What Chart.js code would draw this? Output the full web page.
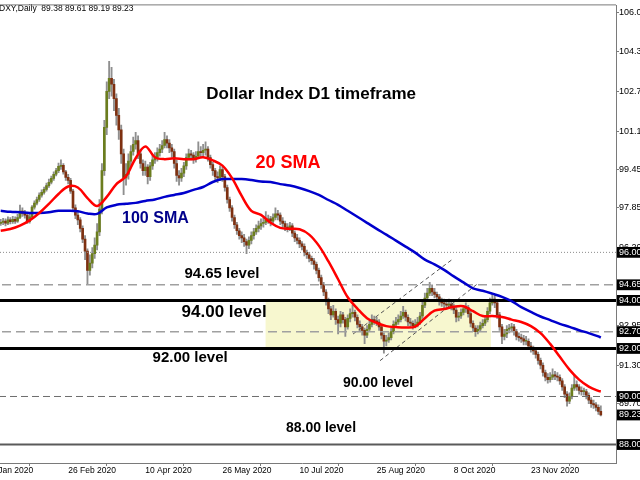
<!DOCTYPE html>
<html>
<head>
<meta charset="utf-8">
<script src="https://cdn.jsdelivr.net/npm/chart.js@4.4.0/dist/chart.umd.min.js"></script>
<style>
  html, body { margin: 0; padding: 0; background: #fff; overflow: hidden; width: 640px; height: 480px; }
  #wrap { position: absolute; left: -12px; top: 0; width: 660px; height: 480px; }
</style>
</head>
<body>
<div id="wrap"><canvas id="dxy" width="660" height="480"></canvas></div>
<script>
// ---- DXY daily bars (bar index 0 = first visible bar) ----
const firstOpen = 97.20;
const closes = [
  97.25, 97.30, 97.22, 97.35, 97.28, 97.38, 97.30, 97.45, 97.72, 97.62,
  97.55, 97.28, 97.48, 97.88, 98.05, 98.20, 98.38, 98.50, 98.62, 98.78,
  98.92, 99.08, 99.25, 99.40, 99.58, 99.62, 99.35, 99.12, 99.00, 98.55,
  97.85, 97.55, 97.35, 97.00, 96.55, 96.05, 95.25, 95.55, 95.95, 96.30,
  96.85, 97.80, 99.40, 101.20, 102.70, 103.25, 103.00, 102.40, 101.70, 101.10,
  100.10, 99.10, 99.25, 99.80, 100.20, 100.50, 100.65, 100.10, 99.70, 99.40,
  99.55, 99.15, 99.60, 99.85, 99.95, 100.15, 100.30, 100.45, 100.70, 100.55,
  100.35, 100.20, 99.70, 99.20, 99.10, 99.30, 99.60, 99.95, 100.10, 100.05,
  99.90, 100.00, 100.20, 100.15, 100.25, 100.30, 99.95, 99.65, 99.40, 99.15,
  99.10, 99.45, 99.15, 98.70, 98.20, 97.85, 97.45, 97.15, 96.90, 96.70,
  96.60, 96.45, 96.30, 96.50, 96.70, 96.85, 97.00, 97.10, 97.20, 97.25,
  97.35, 97.40, 97.30, 97.45, 97.60, 97.55, 97.30, 97.20, 97.05, 97.00,
  97.10, 96.80, 96.60, 96.50, 96.35, 96.25, 96.00, 95.90, 95.75, 95.65,
  95.50, 95.25, 94.95, 94.65, 94.35, 94.00, 93.65, 93.40, 93.55, 93.20,
  93.05, 93.40, 93.20, 92.90, 93.25, 93.45, 93.50, 93.30, 93.00, 92.90,
  92.75, 92.55, 92.80, 93.00, 93.20, 93.15, 93.10, 92.90, 92.55, 92.30,
  92.35, 92.45, 92.70, 93.00, 93.10, 93.20, 93.35, 93.50, 93.30, 93.10,
  93.05, 92.95, 93.00, 93.10, 93.35, 93.80, 94.10, 94.30, 94.50, 94.35,
  94.25, 94.15, 93.95, 93.90, 93.85, 93.80, 93.85, 93.75, 93.60, 93.30,
  93.35, 93.50, 93.65, 93.70, 93.45, 93.05, 92.85, 92.70, 92.80, 92.95,
  93.05, 93.20, 93.55, 93.90, 94.05, 93.90, 93.40, 92.90, 92.50, 92.60,
  92.80, 92.85, 92.90, 92.70, 92.50, 92.45, 92.40, 92.30, 92.30, 92.10,
  92.00, 91.90, 91.75, 91.50, 91.30, 91.00, 90.80, 90.70, 90.80, 90.90,
  90.85, 90.80, 90.65, 90.40, 90.10, 89.80, 90.00, 90.35, 90.50, 90.40,
  90.25, 90.20, 90.20, 90.05, 89.85, 89.70, 89.65, 89.55, 89.38, 89.23
];
const highs = [
  97.38, 97.42, 97.40, 97.48, 97.45, 97.50, 97.48, 97.58, 97.97, 97.85,
  97.75, 97.62, 97.58, 97.95, 98.15, 98.30, 98.48, 98.60, 98.72, 98.88,
  99.05, 99.18, 99.35, 99.50, 99.72, 99.85, 99.70, 99.42, 99.25, 99.08,
  98.62, 97.98, 97.70, 97.45, 97.10, 96.70, 96.15, 95.90, 96.20, 96.60,
  97.20, 98.20, 99.70, 101.50, 103.10, 103.95, 103.70, 103.20, 102.60, 102.00,
  101.30, 100.30, 99.70, 100.10, 100.45, 100.80, 101.00, 100.85, 100.30, 99.85,
  99.80, 99.65, 99.75, 100.05, 100.15, 100.35, 100.50, 100.65, 101.00, 100.85,
  100.70, 100.50, 100.30, 99.85, 99.40, 99.50, 99.75, 100.10, 100.30, 100.25,
  100.15, 100.20, 100.60, 100.40, 100.50, 100.60, 100.40, 100.05, 99.75, 99.50,
  99.35, 99.60, 99.55, 99.25, 98.80, 98.30, 97.95, 97.55, 97.25, 97.00,
  96.85, 96.75, 96.55, 96.65, 96.85, 97.00, 97.15, 97.30, 97.40, 97.45,
  97.70, 97.55, 97.50, 97.60, 97.85, 97.75, 97.65, 97.45, 97.30, 97.20,
  97.25, 97.20, 96.90, 96.75, 96.60, 96.45, 96.35, 96.10, 96.00, 95.85,
  95.75, 95.60, 95.35, 95.05, 94.75, 94.45, 94.10, 93.75, 93.80, 93.65,
  93.35, 93.55, 93.50, 93.30, 93.40, 93.65, 93.80, 93.60, 93.40, 93.15,
  93.00, 92.85, 92.95, 93.15, 93.40, 93.35, 93.30, 93.20, 93.00, 92.65,
  92.55, 92.65, 92.85, 93.15, 93.30, 93.40, 93.55, 93.75, 93.60, 93.40,
  93.25, 93.15, 93.20, 93.30, 93.50, 93.95, 94.30, 94.50, 94.75, 94.65,
  94.50, 94.35, 94.25, 94.10, 94.05, 94.00, 94.05, 93.95, 93.85, 93.70,
  93.50, 93.65, 93.80, 93.90, 93.80, 93.55, 93.15, 92.95, 92.95, 93.10,
  93.20, 93.35, 93.70, 94.10, 94.25, 94.20, 94.00, 93.50, 93.00, 92.80,
  92.95, 93.00, 93.05, 93.00, 92.80, 92.65, 92.60, 92.55, 92.50, 92.40,
  92.25, 92.10, 92.00, 91.85, 91.60, 91.40, 91.10, 90.95, 91.00, 91.15,
  91.05, 91.00, 90.90, 90.75, 90.50, 90.20, 90.15, 90.50, 90.90, 90.65,
  90.50, 90.40, 90.35, 90.30, 90.15, 89.95, 89.85, 89.75, 89.65, 89.61
];
const lows = [
  97.12, 97.15, 97.10, 97.15, 97.18, 97.20, 97.20, 97.25, 97.40, 97.50,
  97.42, 97.20, 97.22, 97.42, 97.80, 97.98, 98.12, 98.30, 98.42, 98.55,
  98.70, 98.85, 99.00, 99.18, 99.32, 99.45, 99.25, 99.00, 98.85, 98.45,
  97.75, 97.40, 97.15, 96.85, 96.40, 95.70, 94.65, 95.05, 95.35, 95.75,
  96.10, 96.70, 97.60, 99.20, 100.90, 102.40, 102.50, 101.90, 101.30, 100.70,
  99.70, 98.40, 98.80, 99.05, 99.60, 100.05, 100.30, 99.90, 99.50, 99.20,
  99.20, 98.85, 99.00, 99.45, 99.70, 99.80, 100.00, 100.15, 100.35, 100.35,
  100.15, 99.95, 99.50, 98.95, 98.80, 98.95, 99.15, 99.45, 99.85, 99.85,
  99.70, 99.75, 99.90, 99.95, 100.00, 100.05, 99.80, 99.50, 99.20, 98.95,
  98.90, 99.00, 98.95, 98.55, 98.05, 97.70, 97.30, 97.00, 96.75, 96.55,
  96.40, 96.25, 95.95, 96.15, 96.35, 96.55, 96.75, 96.85, 96.95, 97.05,
  97.15, 97.20, 97.10, 97.20, 97.35, 97.35, 97.15, 97.05, 96.90, 96.85,
  96.90, 96.65, 96.45, 96.35, 96.20, 96.10, 95.85, 95.75, 95.60, 95.50,
  95.30, 95.10, 94.80, 94.50, 94.20, 93.80, 93.45, 93.20, 93.30, 93.00,
  92.60, 92.90, 93.05, 92.50, 92.80, 93.10, 93.30, 93.15, 92.85, 92.70,
  92.55, 92.20, 92.45, 92.70, 92.90, 93.00, 92.95, 92.75, 92.40, 91.80,
  92.10, 92.25, 92.35, 92.60, 92.90, 93.00, 93.10, 93.25, 93.15, 92.95,
  92.90, 92.80, 92.85, 92.90, 93.00, 93.25, 93.70, 94.00, 94.20, 94.20,
  94.10, 94.00, 93.80, 93.75, 93.70, 93.65, 93.70, 93.60, 93.45, 93.10,
  93.15, 93.25, 93.40, 93.50, 93.30, 92.90, 92.70, 92.50, 92.60, 92.70,
  92.85, 92.95, 93.10, 93.45, 93.80, 93.70, 93.25, 92.75, 92.20, 92.35,
  92.45, 92.65, 92.70, 92.55, 92.35, 92.30, 92.25, 92.15, 92.15, 91.95,
  91.85, 91.75, 91.60, 91.35, 91.15, 90.85, 90.65, 90.55, 90.60, 90.70,
  90.70, 90.65, 90.50, 90.25, 89.95, 89.60, 89.70, 89.90, 90.25, 90.25,
  90.10, 90.05, 90.05, 89.90, 89.70, 89.55, 89.50, 89.40, 89.25, 89.19
];

// ---- moving averages, read every 4th bar ----
const smaBars = [
  0, 4, 8, 12, 16, 20, 24, 28, 32, 36, 40, 44, 48, 52, 56, 60,
  64, 68, 72, 76, 80, 84, 88, 92, 96, 100, 104, 108, 112, 116, 120, 124,
  128, 132, 136, 140, 144, 148, 152, 156, 160, 164, 168, 172, 176, 180, 184, 188,
  192, 196, 200, 204, 208, 212, 216, 220, 224, 228, 232, 236, 240, 244, 248, 249
];
const sma20 = [
  96.90, 96.97, 97.11, 97.33, 97.64, 98.02, 98.43, 98.74, 98.70, 98.26, 97.93, 98.31, 98.84, 99.17, 99.92, 100.41,
  99.96, 99.88, 99.92, 99.88, 99.88, 99.96, 99.83, 99.61, 99.09, 98.35, 97.73, 97.56, 97.23, 97.02, 96.98, 96.96,
  96.74, 96.28, 95.62, 94.88, 94.13, 93.66, 93.26, 93.06, 92.93, 92.89, 92.87, 92.91, 93.26, 93.57, 93.64, 93.74,
  93.76, 93.55, 93.35, 93.35, 93.31, 93.20, 93.10, 92.93, 92.64, 92.19, 91.65, 91.12, 90.70, 90.41, 90.23, 90.21
];
const sma100 = [
  97.73, 97.69, 97.67, 97.64, 97.64, 97.67, 97.73, 97.73, 97.71, 97.62, 97.60, 97.87, 97.98, 98.02, 98.06, 98.14,
  98.20, 98.31, 98.39, 98.47, 98.60, 98.72, 98.93, 99.05, 99.05, 99.05, 99.01, 98.95, 98.93, 98.84, 98.78, 98.68,
  98.55, 98.39, 98.18, 97.98, 97.73, 97.48, 97.23, 96.98, 96.74, 96.49, 96.24, 95.99, 95.70, 95.50, 95.27, 95.00,
  94.75, 94.50, 94.40, 94.28, 94.15, 93.97, 93.72, 93.52, 93.33, 93.18, 93.02, 92.90, 92.76, 92.64, 92.50, 92.45
];

// ---- axes ----
const dateTickBars = [-4, 28, 60, 92, 124, 156, 188, 220];
const dateLabels = ['3 Jan 2020', '26 Feb 2020', '10 Apr 2020', '26 May 2020',
                    '10 Jul 2020', '25 Aug 2020', '8 Oct 2020', '23 Nov 2020'];
const gridPrices = [106.0, 104.35, 102.7, 101.05, 99.45, 97.85, 96.2, 92.95, 91.3, 89.7];
const gridLabels = ['106.0', '104.3', '102.7', '101.1', '99.45', '97.85', '96.20', '92.95', '91.30', '89.70'];
const levelPrices = [96.00, 94.65, 94.00, 92.70, 92.00, 90.00, 88.00];
const levelLabels = ['96.00', '94.65', '94.00', '92.70', '92.00', '90.00', '88.00'];

// ---- drawn objects ----
const channelLowerBars = [157.4, 197.6];
const channelLowerPrices = [91.49, 94.67];
const channelUpperBars = [146.2, 187.3];
const channelUpperPrices = [92.60, 95.70];
const rangeBars = [109.9, 203.4];
const rangePrices = [92.00, 94.00];

const X_MIN = -5.27, X_MAX = 255.31;
const Y_MIN = 87.231, Y_MAX = 106.281;

const opens = closes.map((c, i) => i === 0 ? firstOpen : closes[i - 1]);
const lastIdx = closes.length - 1;

const notes = [
  { text: 'Dollar Index D1 timeframe', bar: 128.8, price: 102.56, size: 17, color: '#000000' },
  { text: '20 SMA', bar: 119.2, price: 99.71, size: 18, color: '#ff0000' },
  { text: '100 SMA', bar: 64.2, price: 97.40, size: 16, color: '#00008b' },
  { text: '94.65 level', bar: 91.8, price: 95.12, size: 15, color: '#000000' },
  { text: '94.00 level', bar: 92.7, price: 93.51, size: 17, color: '#000000' },
  { text: '92.00 level', bar: 78.6, price: 91.61, size: 15, color: '#000000' },
  { text: '90.00 level', bar: 156.6, price: 90.54, size: 14, color: '#000000' },
  { text: '88.00 level', bar: 132.9, price: 88.68, size: 14, color: '#000000' }
];

const levelStyles = {
  96.00: { color: '#8c8c8c', width: 1, dash: [1, 2] },
  94.65: { color: '#a0a0a0', width: 1.5, dash: [9, 5] },
  94.00: { color: '#000000', width: 3, dash: [] },
  92.70: { color: '#a0a0a0', width: 1.5, dash: [9, 5] },
  92.00: { color: '#000000', width: 3, dash: [] },
  90.00: { color: '#6e6e6e', width: 1, dash: [7, 4] },
  88.00: { color: '#5a5a5a', width: 2, dash: [] }
};

const BULL = '#6b7d1e';
const BEAR = '#7e3010';
const WICK = '#8f8f8f';

const datasets = [];

datasets.push({
  type: 'line', label: '20 SMA', order: 0,
  data: smaBars.map((b, i) => ({ x: b, y: sma20[i] })),
  borderColor: '#ff0000', borderWidth: 2.5, pointRadius: 0, tension: 0.35
});
datasets.push({
  type: 'line', label: '100 SMA', order: 0,
  data: smaBars.map((b, i) => ({ x: b, y: sma100[i] })),
  borderColor: '#0000cc', borderWidth: 2.5, pointRadius: 0, tension: 0.35
});

levelPrices.forEach(p => {
  const s = levelStyles[p];
  datasets.push({
    type: 'line', label: 'level ' + p, order: 1,
    data: [{ x: X_MIN, y: p }, { x: X_MAX, y: p }],
    borderColor: s.color, borderWidth: s.width, borderDash: s.dash,
    pointRadius: 0, tension: 0
  });
});

datasets.push({
  type: 'line', label: 'channel upper', order: 1,
  data: channelUpperBars.map((b, i) => ({ x: b, y: channelUpperPrices[i] })),
  borderColor: '#555555', borderWidth: 1, borderDash: [4, 3], pointRadius: 0
});
datasets.push({
  type: 'line', label: 'channel lower', order: 1,
  data: channelLowerBars.map((b, i) => ({ x: b, y: channelLowerPrices[i] })),
  borderColor: '#555555', borderWidth: 1, borderDash: [4, 3], pointRadius: 0
});

datasets.push({
  type: 'bar', label: 'body', order: 2, grouped: false,
  data: closes.map((c, i) => ({ x: i, y: [Math.min(opens[i], c), Math.max(opens[i], c)] })),
  backgroundColor: closes.map((c, i) => c >= opens[i] ? BULL : BEAR),
  barThickness: 2, minBarLength: 1, borderWidth: 0
});
datasets.push({
  type: 'bar', label: 'wick', order: 3, grouped: false,
  data: closes.map((c, i) => ({ x: i, y: [lows[i], highs[i]] })),
  backgroundColor: WICK, barThickness: 1.2, borderWidth: 0
});

// yellow range box behind everything
const rangeBoxPlugin = {
  id: 'rangeBox',
  beforeDatasetsDraw(chart) {
    const { ctx, scales: { x, y } } = chart;
    const x0 = x.getPixelForValue(rangeBars[0]);
    const x1 = x.getPixelForValue(rangeBars[1]);
    const y0 = y.getPixelForValue(rangePrices[1]);
    const y1 = y.getPixelForValue(rangePrices[0]);
    ctx.save();
    ctx.fillStyle = '#f7f7cf';
    ctx.fillRect(x0, y0, x1 - x0, y1 - y0);
    ctx.restore();
  }
};

// text notes, header and top frame line
const notesPlugin = {
  id: 'notes',
  afterDatasetsDraw(chart) {
    const { ctx, chartArea, scales: { x, y } } = chart;
    ctx.save();
    ctx.textAlign = 'center';
    ctx.textBaseline = 'middle';
    notes.forEach(n => {
      ctx.font = 'bold ' + n.size + 'px "Liberation Sans", Arial, sans-serif';
      ctx.fillStyle = n.color;
      ctx.fillText(n.text, x.getPixelForValue(n.bar), y.getPixelForValue(n.price));
    });
    ctx.font = '8.5px "Liberation Sans", Arial, sans-serif';
    ctx.textAlign = 'left';
    ctx.fillStyle = '#000';
    const f = v => v.toFixed(2);
    ctx.fillText('DXY,Daily  ' + f(opens[lastIdx]) + ' ' + f(highs[lastIdx]) + ' ' +
                 f(lows[lastIdx]) + ' ' + f(closes[lastIdx]), 11, 9);
    ctx.strokeStyle = '#7a7a7a';
    ctx.lineWidth = 1;
    ctx.beginPath();
    ctx.moveTo(chartArea.left, chartArea.top - 0.5);
    ctx.lineTo(chartArea.right, chartArea.top - 0.5);
    ctx.stroke();
    ctx.restore();
  }
};

// y axis labels: grid values first, then boxed level labels on top
const yTickValues = gridPrices.concat(levelPrices, [closes[lastIdx]]);
const yTickLabels = gridLabels.concat(levelLabels, [closes[lastIdx].toFixed(2)]);
const yBoxed = yTickValues.map((v, i) => i >= gridPrices.length);

new Chart(document.getElementById('dxy'), {
  type: 'bar',
  data: { datasets },
  plugins: [rangeBoxPlugin, notesPlugin],
  options: {
    responsive: false,
    animation: false,
    devicePixelRatio: 1,
    layout: { padding: { top: 2, left: 0, right: 0, bottom: 0 } },
    plugins: { legend: { display: false }, tooltip: { enabled: false } },
    scales: {
      x: {
        type: 'linear',
        min: X_MIN, max: X_MAX,
        offset: false,
        afterBuildTicks: scale => { scale.ticks = dateTickBars.map(v => ({ value: v })); },
        afterFit: scale => { scale.height = 17; },
        grid: { drawOnChartArea: false, drawTicks: true, tickLength: 3, color: '#7a7a7a' },
        border: { color: '#7a7a7a', width: 1 },
        ticks: {
          autoSkip: false, maxRotation: 0, minRotation: 0, align: 'start', padding: 0,
          color: '#000',
          font: { family: 'Liberation Sans', size: 8.5 },
          callback: (v, i) => dateLabels[i]
        }
      },
      y: {
        type: 'linear',
        position: 'right',
        min: Y_MIN, max: Y_MAX,
        bounds: 'data',
        afterBuildTicks: scale => { scale.ticks = yTickValues.map(v => ({ value: v })); },
        afterFit: scale => { scale.width = 32; },
        grid: { drawOnChartArea: false, drawTicks: true, tickLength: 3, color: '#7a7a7a' },
        border: { color: '#7a7a7a', width: 1 },
        ticks: {
          autoSkip: false, padding: 0,
          font: { family: 'Liberation Sans', size: 9 },
          color: ctx => yBoxed[ctx.index] ? '#ffffff' : '#000000',
          showLabelBackdrop: ctx => yBoxed[ctx.index],
          backdropColor: '#000000',
          backdropPadding: { left: 2, right: 8, top: 0, bottom: 0 },
          callback: (v, i) => yTickLabels[i]
        }
      }
    }
  }
});
</script>
</body>
</html>
